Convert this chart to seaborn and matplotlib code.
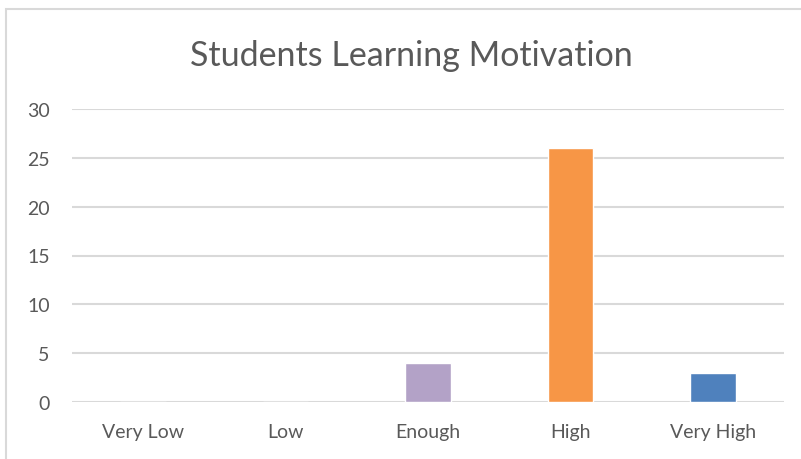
import matplotlib
matplotlib.use("Agg")
import matplotlib.pyplot as plt
import seaborn as sns
import pandas as pd
from matplotlib.patches import Rectangle

categories = ["Very Low", "Low", "Enough", "High", "Very High"]
values = [0, 0, 4, 26, 3]
colors = ["#4F81BD", "#C0504D", "#B3A2C7", "#F79646", "#4F81BD"]
yticks = [0, 5, 10, 15, 20, 25, 30]
title = "Students Learning Motivation"

sns.set_theme(style="white")
plt.rcParams['font.family'] = ['Lato', 'DejaVu Sans']

W, H = 801, 460
fig = plt.figure(figsize=(W / 100, H / 100), dpi=100)

# outer chart border
fig.patches.append(Rectangle((6 / W, -0.1), 1.2, (H - 10) / H + 0.1, transform=fig.transFigure,
                             fill=False, edgecolor="#D9D9D9", linewidth=1.5))

ax = fig.add_axes([72 / W, 57 / H, (784 - 72) / W, (403 - 110) / H])
df = pd.DataFrame({"cat": categories, "val": values})
sns.barplot(data=df, x="cat", y="val", hue="cat", palette=colors, width=0.32,
            ax=ax, legend=False, saturation=1)

ax.set_ylim(0, 30)
ax.set_yticks(yticks)
ax.set_yticklabels([str(t) for t in yticks])
ax.set_xlim(-0.5, len(categories) - 0.5)
ax.yaxis.grid(True, color="#D9D9D9", linewidth=1.5)
ax.set_axisbelow(True)
for s in ax.spines.values():
    s.set_visible(False)
ax.tick_params(axis="both", length=0, labelsize=14, labelcolor="#595959")
ax.tick_params(axis="y", pad=16)
ax.tick_params(axis="x", pad=15)
ax.set_xlabel("")
ax.set_ylabel("")

fig.text(411 / W, 1 - 56 / H, title, ha="center", va="center", fontsize=24.5, color="#595959")

fig.savefig("out.png", dpi=100)
